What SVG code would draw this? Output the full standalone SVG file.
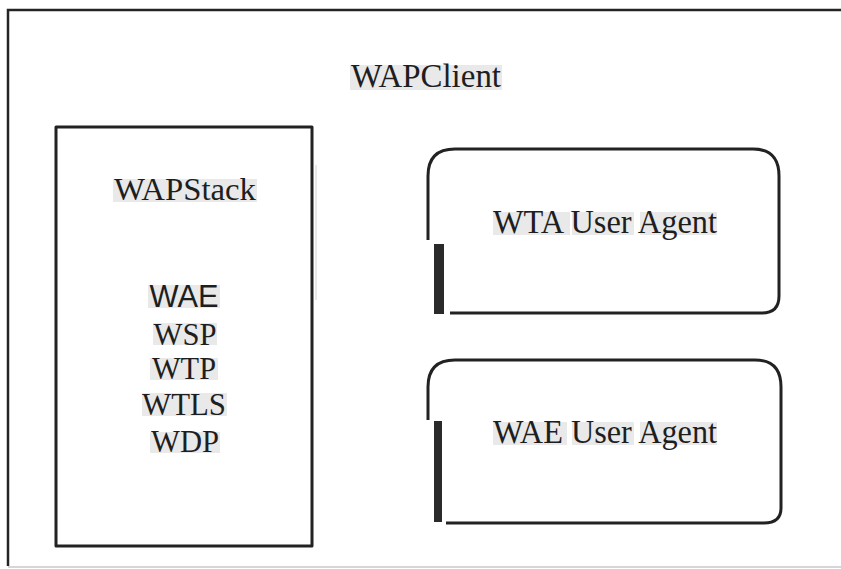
<svg xmlns="http://www.w3.org/2000/svg" width="841" height="569" viewBox="0 0 841 569">
  <style>
    .frame { fill: none; stroke: #242424; stroke-width: 2.5; }
    .box { fill: none; stroke: #222; stroke-width: 3; stroke-linejoin: round; }
    .hl { fill: #e9e9e9; }
    .serif { font-family: "Liberation Serif", "Times New Roman", serif; fill: #1e1e1e; }
    .sans { font-family: "Liberation Sans", Arial, sans-serif; fill: #1e1e1e; }
    .big { font-size: 33px; }
    .mid { font-size: 31px; }
    .bar { fill: #2a2a2a; }
  </style>
  <rect width="841" height="569" fill="#ffffff"/>

  <!-- outer client frame (runs off the right edge) -->
  <g id="wap-client">
    <path class="frame" d="M841 10 H8 V566"/>
    <path d="M8 567 H841" fill="none" stroke="#c8c8c8" stroke-width="1.5"/>
    <rect class="hl" x="350" y="65" width="152" height="25"/>
    <text class="serif big" x="426" y="87" text-anchor="middle" textLength="150" lengthAdjust="spacingAndGlyphs">WAPClient</text>
  </g>

  <!-- protocol stack box -->
  <g id="wap-stack">
    <rect class="box" x="56" y="127" width="256" height="419"/>
    <line x1="316" y1="165" x2="316" y2="300" stroke="#d4d4d4" stroke-width="1"/>
    <rect class="hl" x="113" y="179" width="144" height="23"/>
    <text class="serif mid" x="185" y="200" text-anchor="middle" textLength="142" lengthAdjust="spacingAndGlyphs">WAPStack</text>

    <rect class="hl" x="148" y="285" width="72" height="23"/>
    <text class="sans mid" x="184" y="307" text-anchor="middle" textLength="69" lengthAdjust="spacingAndGlyphs">WAE</text>
    <rect class="hl" x="153" y="323" width="64" height="22"/>
    <text class="serif mid" x="185" y="345" text-anchor="middle" textLength="63" lengthAdjust="spacingAndGlyphs">WSP</text>
    <rect class="hl" x="150" y="358" width="68" height="22"/>
    <text class="serif mid" x="184" y="379" text-anchor="middle" textLength="64" lengthAdjust="spacingAndGlyphs">WTP</text>
    <rect class="hl" x="142" y="393" width="85" height="23"/>
    <text class="serif mid" x="184" y="415" text-anchor="middle" textLength="84" lengthAdjust="spacingAndGlyphs">WTLS</text>
    <rect class="hl" x="150" y="432" width="70" height="21"/>
    <text class="serif mid" x="185" y="452" text-anchor="middle" textLength="68" lengthAdjust="spacingAndGlyphs">WDP</text>
  </g>

  <!-- WTA user agent -->
  <g id="wta-agent">
    <path class="box" d="M428 240 V176 Q428 149 455 149 H753 Q779 149 779 176 V296 Q779 313 762 313 H450"/>
    <rect class="bar" x="434" y="244" width="10" height="70"/>
    <rect class="hl" x="493" y="212" width="77" height="23"/>
    <rect class="hl" x="572" y="212" width="62" height="23"/>
    <rect class="hl" x="640" y="212" width="77" height="23"/>
    <text class="serif big" x="493" y="233" textLength="224" lengthAdjust="spacingAndGlyphs">WTA User Agent</text>
  </g>

  <!-- WAE user agent -->
  <g id="wae-agent">
    <path class="box" d="M428 420 V387 Q428 360 455 360 H755 Q781 360 781 387 V508 Q781 523 764 523 H446"/>
    <rect class="bar" x="434" y="421" width="8" height="101"/>
    <rect class="hl" x="493" y="422" width="74" height="23"/>
    <rect class="hl" x="572" y="422" width="62" height="23"/>
    <rect class="hl" x="640" y="422" width="77" height="23"/>
    <text class="serif big" x="493" y="443" textLength="224" lengthAdjust="spacingAndGlyphs">WAE User Agent</text>
  </g>

  <g id="connectors"/>
</svg>
